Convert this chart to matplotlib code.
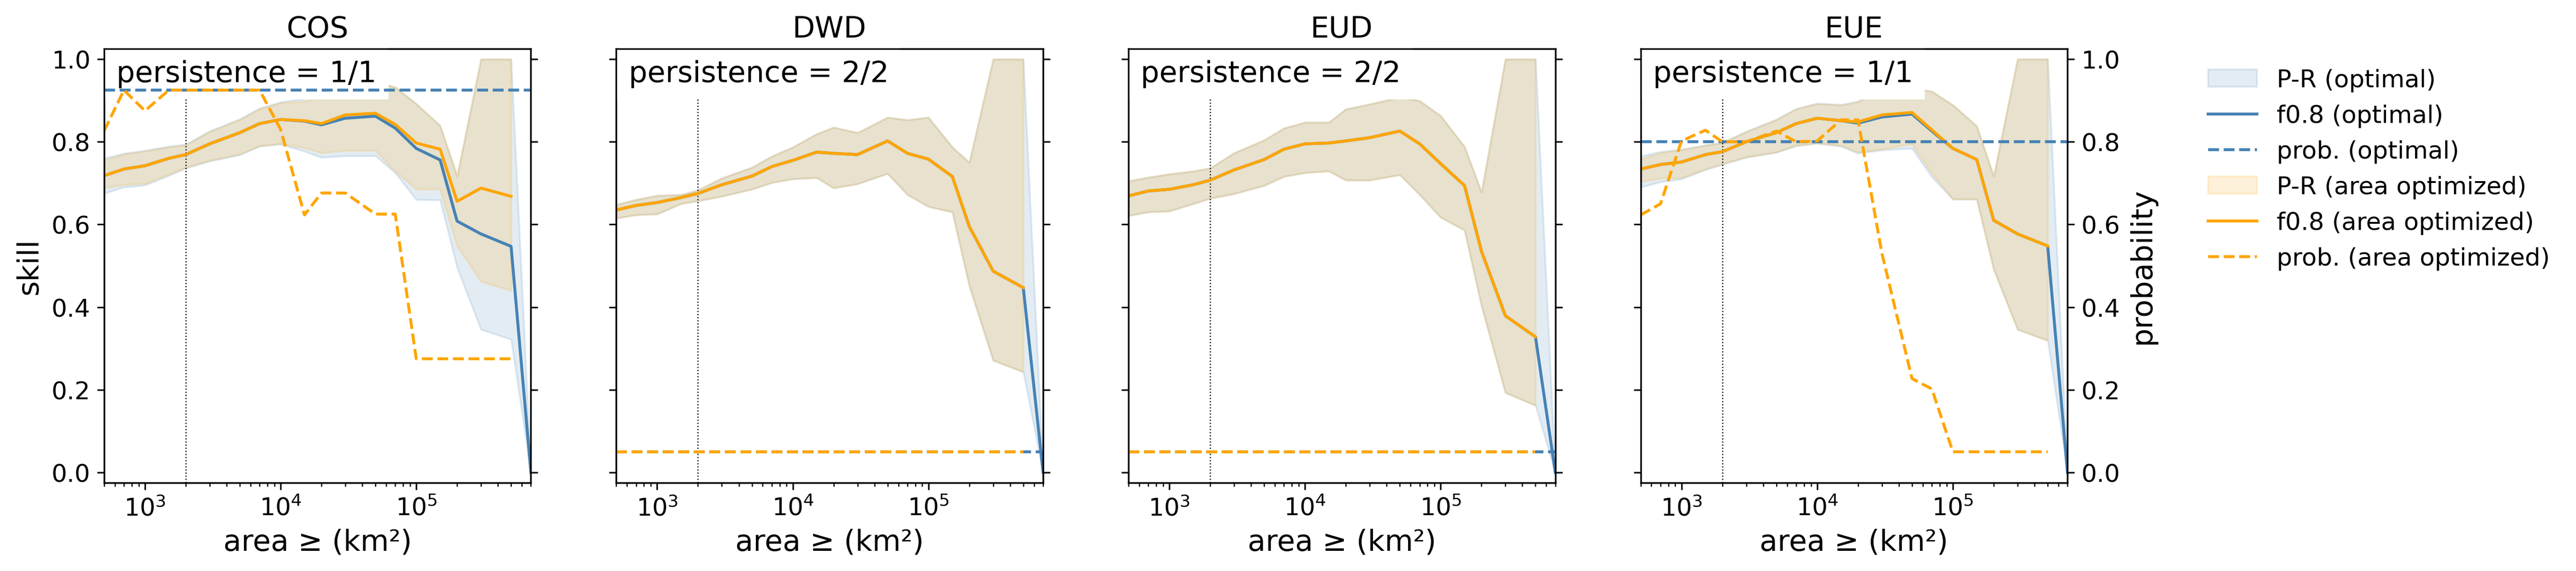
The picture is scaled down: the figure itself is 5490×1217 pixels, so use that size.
import numpy as np
import matplotlib
matplotlib.use('Agg')
import matplotlib.pyplot as plt

nan = np.nan

area = [500, 700, 1000, 1500, 2000, 3000, 5000, 7000, 10000, 15000, 20000,
        30000, 50000, 70000, 100000, 150000, 200000, 300000, 500000, 700000]

regions = ['COS', 'DWD', 'EUD', 'EUE']
persistence = ['persistence = 1/1', 'persistence = 2/2', 'persistence = 2/2', 'persistence = 1/1']

# f0.8 skill
cos_f08_opt = [0.718, 0.734, 0.742, 0.760, 0.769, 0.795, 0.822, 0.844, 0.854, 0.850, 0.841, 0.857, 0.862, 0.833, 0.784, 0.756, 0.608, 0.577, 0.547, 0.0]
cos_f08_area = [0.718, 0.734, 0.742, 0.760, 0.769, 0.795, 0.822, 0.844, 0.854, 0.851, 0.844, 0.865, 0.869, 0.842, 0.797, 0.782, 0.656, 0.688, 0.668, nan]
dwd_f08_opt = [0.635, 0.646, 0.653, 0.665, 0.675, 0.696, 0.717, 0.740, 0.755, 0.775, 0.772, 0.769, 0.802, 0.772, 0.758, 0.716, 0.595, 0.487, 0.447, 0.0]
dwd_f08_area = [0.635, 0.646, 0.653, 0.665, 0.675, 0.696, 0.717, 0.740, 0.755, 0.775, 0.772, 0.769, 0.802, 0.772, 0.758, 0.716, 0.595, 0.487, 0.447, nan]
eud_f08_opt = [0.669, 0.681, 0.685, 0.696, 0.707, 0.732, 0.757, 0.782, 0.795, 0.797, 0.802, 0.810, 0.826, 0.795, 0.747, 0.694, 0.535, 0.379, 0.328, 0.0]
eud_f08_area = [0.669, 0.681, 0.685, 0.696, 0.707, 0.732, 0.757, 0.782, 0.795, 0.797, 0.802, 0.810, 0.826, 0.795, 0.747, 0.694, 0.535, 0.379, 0.328, nan]
eue_f08_opt = [0.734, 0.745, 0.751, 0.769, 0.776, 0.800, 0.822, 0.844, 0.857, 0.851, 0.845, 0.860, 0.867, 0.826, 0.784, 0.757, 0.610, 0.577, 0.548, 0.0]
eue_f08_area = [0.734, 0.745, 0.751, 0.769, 0.776, 0.800, 0.822, 0.844, 0.857, 0.851, 0.848, 0.865, 0.871, 0.829, 0.784, 0.757, 0.610, 0.577, 0.548, nan]

# P-R band (upper / lower)
cos_pr_opt_hi = [0.760, 0.772, 0.779, 0.789, 0.794, 0.826, 0.855, 0.881, 0.896, 0.905, 0.912, 0.940, 0.945, 0.932, 0.892, 0.839, 0.715, 1.0, 1.0, 0.0]
cos_pr_opt_lo = [0.675, 0.690, 0.695, 0.718, 0.736, 0.753, 0.768, 0.789, 0.794, 0.777, 0.762, 0.766, 0.766, 0.725, 0.660, 0.659, 0.496, 0.346, 0.322, 0.0]
cos_pr_area_hi = [0.755, 0.770, 0.777, 0.787, 0.792, 0.824, 0.853, 0.879, 0.894, 0.898, 0.909, 0.940, 0.945, 0.932, 0.892, 0.839, 0.720, 1.0, 1.0, nan]
cos_pr_area_lo = [0.688, 0.696, 0.699, 0.721, 0.738, 0.755, 0.770, 0.790, 0.796, 0.785, 0.773, 0.779, 0.779, 0.729, 0.685, 0.685, 0.548, 0.462, 0.440, nan]

dwd_pr_opt_hi = [0.648, 0.660, 0.670, 0.672, 0.683, 0.712, 0.738, 0.765, 0.787, 0.819, 0.835, 0.822, 0.859, 0.853, 0.859, 0.787, 0.750, 1.0, 1.0, 0.0]
dwd_pr_opt_lo = [0.615, 0.623, 0.625, 0.650, 0.657, 0.668, 0.685, 0.701, 0.710, 0.713, 0.688, 0.698, 0.723, 0.672, 0.643, 0.630, 0.451, 0.271, 0.243, 0.0]
dwd_pr_area_hi = [0.648, 0.660, 0.670, 0.672, 0.683, 0.712, 0.738, 0.765, 0.787, 0.819, 0.835, 0.822, 0.859, 0.853, 0.859, 0.787, 0.750, 1.0, 1.0, nan]
dwd_pr_area_lo = [0.615, 0.623, 0.625, 0.650, 0.657, 0.668, 0.685, 0.701, 0.710, 0.713, 0.688, 0.698, 0.723, 0.672, 0.643, 0.630, 0.451, 0.271, 0.243, nan]

eud_pr_opt_hi = [0.705, 0.714, 0.722, 0.729, 0.736, 0.773, 0.804, 0.833, 0.847, 0.847, 0.879, 0.891, 0.908, 0.899, 0.863, 0.788, 0.678, 1.0, 1.0, 0.0]
eud_pr_opt_lo = [0.621, 0.630, 0.632, 0.650, 0.663, 0.674, 0.694, 0.716, 0.725, 0.729, 0.707, 0.707, 0.720, 0.672, 0.617, 0.586, 0.403, 0.193, 0.162, 0.0]
eud_pr_area_hi = [0.705, 0.714, 0.722, 0.729, 0.736, 0.773, 0.804, 0.833, 0.847, 0.847, 0.879, 0.891, 0.908, 0.899, 0.863, 0.788, 0.678, 1.0, 1.0, nan]
eud_pr_area_lo = [0.621, 0.630, 0.632, 0.650, 0.663, 0.674, 0.694, 0.716, 0.725, 0.729, 0.707, 0.707, 0.720, 0.672, 0.617, 0.586, 0.403, 0.193, 0.162, nan]

eue_pr_opt_hi = [0.765, 0.776, 0.782, 0.792, 0.798, 0.825, 0.854, 0.880, 0.893, 0.890, 0.898, 0.930, 0.930, 0.922, 0.889, 0.838, 0.715, 1.0, 1.0, 0.0]
eue_pr_opt_lo = [0.690, 0.703, 0.710, 0.732, 0.745, 0.762, 0.774, 0.790, 0.796, 0.789, 0.772, 0.780, 0.784, 0.715, 0.661, 0.661, 0.491, 0.346, 0.319, 0.0]
eue_pr_area_hi = [0.758, 0.773, 0.780, 0.791, 0.797, 0.824, 0.853, 0.879, 0.892, 0.888, 0.896, 0.930, 0.930, 0.922, 0.889, 0.838, 0.719, 1.0, 1.0, nan]
eue_pr_area_lo = [0.703, 0.712, 0.713, 0.734, 0.747, 0.763, 0.775, 0.791, 0.797, 0.791, 0.775, 0.782, 0.795, 0.724, 0.661, 0.661, 0.491, 0.346, 0.319, nan]

# probability thresholds
prob_opt = [0.925, 0.05, 0.05, 0.80]
cos_prob_area = [0.826, 0.925, 0.875, 0.925, 0.925, 0.925, 0.925, 0.925, 0.830, 0.623, 0.676, 0.676, 0.625, 0.625, 0.275, 0.275, 0.275, 0.275, 0.275, nan]
dwd_prob_area = [0.05] * 19 + [nan]
eud_prob_area = [0.05] * 19 + [nan]
eue_prob_area = [0.623, 0.650, 0.802, 0.828, 0.800, 0.800, 0.826, 0.800, 0.802, 0.853, 0.853, 0.530, 0.227, 0.202, 0.050, 0.050, 0.050, 0.050, 0.050, nan]

f08_opt = [cos_f08_opt, dwd_f08_opt, eud_f08_opt, eue_f08_opt]
f08_area = [cos_f08_area, dwd_f08_area, eud_f08_area, eue_f08_area]
pr_opt = [(cos_pr_opt_lo, cos_pr_opt_hi), (dwd_pr_opt_lo, dwd_pr_opt_hi),
          (eud_pr_opt_lo, eud_pr_opt_hi), (eue_pr_opt_lo, eue_pr_opt_hi)]
pr_area = [(cos_pr_area_lo, cos_pr_area_hi), (dwd_pr_area_lo, dwd_pr_area_hi),
           (eud_pr_area_lo, eud_pr_area_hi), (eue_pr_area_lo, eue_pr_area_hi)]
prob_area = [cos_prob_area, dwd_prob_area, eud_prob_area, eue_prob_area]

plt.rcParams['font.size'] = 12.5

fig, axes = plt.subplots(1, 4, figsize=(18.3, 4.06), dpi=300, sharey=True)
fig.subplots_adjust(left=0.0404, right=0.8026, bottom=0.1544, top=0.9138, wspace=0.2)

for i, ax in enumerate(axes):
    h1 = ax.fill_between(area, pr_opt[i][0], pr_opt[i][1], color='steelblue', alpha=0.15, label='P-R (optimal)')
    h4 = ax.fill_between(area, pr_area[i][0], pr_area[i][1], color='orange', alpha=0.15, label='P-R (area optimized)')
    ax.axvline(2000, color='k', linestyle=':', linewidth=0.6)
    h2, = ax.plot(area, f08_opt[i], color='steelblue', label='f0.8 (optimal)')
    h5, = ax.plot(area, f08_area[i], color='orange', label='f0.8 (area optimized)')
    ax.text(0.029, 0.975, persistence[i], transform=ax.transAxes, ha='left', va='top', fontsize=15,
            bbox=dict(facecolor='white', edgecolor='none', pad=6))
    ax.set_xscale('log')
    ax.set_xlim(500, 700000)
    ax.set_ylim(-0.025, 1.025)
    ax.set_title(regions[i], fontsize=15)
    ax.set_xlabel('area ≥ (km²)', fontsize=15)
    if i == 0:
        ax.set_ylabel('skill', fontsize=15)

    ax2 = ax.twinx()
    h3, = ax2.plot(area, [prob_opt[i]] * len(area), color='steelblue', linestyle='--', label='prob. (optimal)')
    h6, = ax2.plot(area, prob_area[i], color='orange', linestyle='--', label='prob. (area optimized)')
    ax2.set_ylim(-0.025, 1.025)
    if i < 3:
        ax2.tick_params(labelright=False)
    else:
        ax2.set_ylabel('probability', fontsize=15)

handles = [h1, h2, h3, h4, h5, h6]
fig.legend(handles, [h.get_label() for h in handles], loc='upper left',
           bbox_to_anchor=(0.8486, 0.918), frameon=False)

plt.savefig('out.png', dpi=300)
